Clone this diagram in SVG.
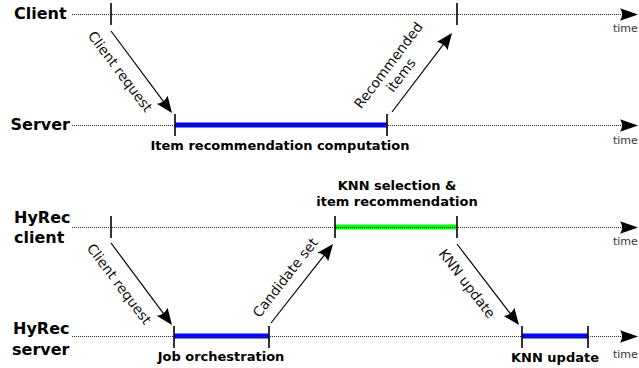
<svg xmlns="http://www.w3.org/2000/svg" width="639" height="368" viewBox="0 0 639 368">
  <style>
    .lane { font-family: "DejaVu Sans", "Liberation Sans", sans-serif; font-weight: bold; font-size: 16px; fill: #000; }
    .act { font-family: "DejaVu Sans", "Liberation Sans", sans-serif; font-weight: bold; font-size: 13px; fill: #000; text-anchor: middle; }
    .msg { font-family: "DejaVu Sans", "Liberation Sans", sans-serif; font-size: 13.8px; fill: #111; text-anchor: middle; }
    .time { font-family: "DejaVu Sans", "Liberation Sans", sans-serif; font-size: 11px; fill: #333; }
    .axis { stroke: #333; stroke-width: 1; stroke-dasharray: 1 1; fill: none; marker-end: url(#tl); }
    .tick { stroke: #000; stroke-width: 1.6; }
    .bar-blue { stroke: #0000ff; stroke-width: 5; }
    .bar-green { stroke: #00ff00; stroke-width: 5; }
    .conn { stroke: #000; stroke-width: 1.2; fill: none; marker-end: url(#ah); }
  </style>
  <defs>
    <marker id="tl" markerUnits="userSpaceOnUse" viewBox="-20 -10 24 20" markerWidth="24" markerHeight="20" refX="-2" refY="0" orient="auto" overflow="visible">
      <path d="M0,0 L-18,-6.2 C-15.3,-2.4 -15.3,2.4 -18,6.2 Z" fill="#000"/>
    </marker>
    <marker id="ah" markerUnits="userSpaceOnUse" viewBox="-20 -10 24 20" markerWidth="24" markerHeight="20" refX="-2" refY="0" orient="auto" overflow="visible">
      <path d="M0,0 L-16.5,-6.8 C-14,-2.6 -14,2.6 -16.5,6.8 Z" fill="#000"/>
    </marker>
  </defs>

  <g id="client">
    <text class="lane" x="14" y="19">Client</text>
    <line class="axis" x1="72" y1="14.5" x2="636" y2="14.5"/>
    <line class="tick" x1="111" y1="3" x2="111" y2="25"/>
    <line class="tick" x1="457" y1="3" x2="457" y2="25"/>
    <text class="time" x="613" y="32">time</text>
  </g>

  <g id="server">
    <text class="lane" x="10.5" y="130">Server</text>
    <line class="bar-blue" x1="175" y1="125" x2="387" y2="125"/>
    <line class="axis" x1="72" y1="125.5" x2="636" y2="125.5"/>
    <line class="tick" x1="175" y1="114" x2="175" y2="136"/>
    <line class="tick" x1="387" y1="114" x2="387" y2="136"/>
    <text class="act" x="280" y="150">Item recommendation computation</text>
    <text class="time" x="613" y="144">time</text>
  </g>

  <g id="hyrec-client">
    <text class="lane" x="14" y="223">HyRec</text>
    <text class="lane" x="14" y="243">client</text>
    <line class="bar-green" x1="335" y1="227" x2="457" y2="227"/>
    <line class="axis" x1="72" y1="227.5" x2="636" y2="227.5"/>
    <line class="tick" x1="111" y1="216" x2="111" y2="238"/>
    <line class="tick" x1="335" y1="216" x2="335" y2="238"/>
    <line class="tick" x1="457" y1="216" x2="457" y2="238"/>
    <text class="act" x="397" y="190">KNN selection &amp;</text>
    <text class="act" x="397" y="206">item recommendation</text>
    <text class="time" x="613" y="245">time</text>
  </g>

  <g id="hyrec-server">
    <text class="lane" x="13" y="334">HyRec</text>
    <text class="lane" x="12" y="355">server</text>
    <line class="bar-blue" x1="174" y1="336" x2="269" y2="336"/>
    <line class="bar-blue" x1="522" y1="336" x2="588" y2="336"/>
    <line class="axis" x1="72" y1="336.5" x2="636" y2="336.5"/>
    <line class="tick" x1="174" y1="326" x2="174" y2="348"/>
    <line class="tick" x1="269" y1="326" x2="269" y2="348"/>
    <line class="tick" x1="522" y1="326" x2="522" y2="348"/>
    <line class="tick" x1="588" y1="326" x2="588" y2="348"/>
    <text class="act" x="221" y="361">Job orchestration</text>
    <text class="act" x="555" y="362">KNN update</text>
    <text class="time" x="613" y="358">time</text>
  </g>

  <g id="connectors">
    <line class="conn" x1="111" y1="31" x2="170.8" y2="111.4"/>
    <text class="msg" transform="translate(121.5,70.5) rotate(53)" y="6.5">Client request</text>

    <line class="conn" x1="392" y1="112" x2="450.8" y2="34.6"/>
    <text class="msg" transform="translate(388.3,65) rotate(-53)" y="5">Recommended</text>
    <text class="msg" transform="translate(400.8,75) rotate(-53)" y="5">items</text>

    <line class="conn" x1="111" y1="243" x2="170.8" y2="323.4"/>
    <text class="msg" transform="translate(120.5,283) rotate(53)" y="6.5">Client request</text>

    <line class="conn" x1="271" y1="323" x2="331.8" y2="245.6"/>
    <text class="msg" transform="translate(285,277.5) rotate(-52)" y="5">Candidate set</text>

    <line class="conn" x1="457" y1="244" x2="517.8" y2="323.4"/>
    <text class="msg" transform="translate(468.3,282.5) rotate(52.5)" y="6.5">KNN update</text>
  </g>
</svg>
